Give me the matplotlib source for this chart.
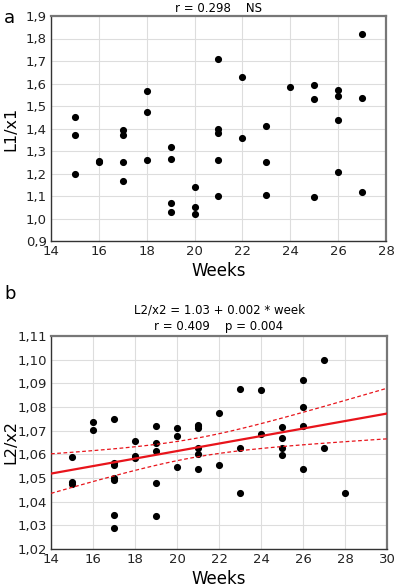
import numpy as np
import matplotlib.pyplot as plt
from matplotlib.ticker import FuncFormatter

# panel a: L1/x1 vs weeks
weeks_a = [15, 15, 15, 16, 16, 17, 17, 17, 17, 18, 18, 18,
           19, 19, 19, 19, 20, 20, 20, 21, 21, 21, 21, 21,
           22, 22, 23, 23, 23, 24, 25, 25, 25, 26, 26, 26, 26, 27, 27, 27]
ratio_a = [1.45, 1.37, 1.20, 1.255, 1.25, 1.395, 1.37, 1.25, 1.165, 1.565, 1.475, 1.26,
           1.32, 1.265, 1.07, 1.03, 1.14, 1.05, 1.02, 1.71, 1.40, 1.38, 1.26, 1.10,
           1.63, 1.36, 1.41, 1.25, 1.105, 1.585, 1.595, 1.53, 1.095, 1.57, 1.545, 1.44, 1.205,
           1.82, 1.535, 1.12]

# panel b: L2/x2 vs weeks
weeks_b = [15, 15, 15, 16, 16, 17, 17, 17, 17, 17, 17, 17,
           18, 18, 18, 19, 19, 19, 19, 19, 20, 20, 20,
           21, 21, 21, 21, 21, 21, 22, 22, 23, 23, 23, 24, 24,
           25, 25, 25, 25, 26, 26, 26, 26, 27, 27, 28]
ratio_b = [1.059, 1.0484, 1.0476, 1.0737, 1.0704, 1.0751, 1.0565, 1.0557, 1.0499, 1.049, 1.0345, 1.029,
           1.0656, 1.0594, 1.0585, 1.0721, 1.0647, 1.0616, 1.048, 1.0338, 1.0711, 1.0679, 1.0548,
           1.0725, 1.0718, 1.0711, 1.0625, 1.060, 1.054, 1.0774, 1.0557, 1.0875, 1.0628, 1.0435, 1.0872, 1.0688,
           1.0714, 1.0667, 1.0625, 1.0599, 1.0912, 1.0801, 1.0721, 1.054, 1.0997, 1.0626, 1.0437]


def comma(nd):
    fmt = '%.' + str(nd) + 'f'
    return FuncFormatter(lambda v, p: (fmt % v).replace('.', ','))


def style(ax):
    ax.grid(True, color='#dddddd', linewidth=0.8)
    ax.set_axisbelow(True)
    ax.tick_params(length=0, pad=3, labelsize=9.5, colors='#222222')
    for s in ['left', 'bottom']:
        ax.spines[s].set_color('#333333')
        ax.spines[s].set_linewidth(1.0)
    for s in ['top', 'right']:
        ax.spines[s].set_color('#777777')
        ax.spines[s].set_linewidth(1.6)


fig = plt.figure(figsize=(3.95, 5.88), dpi=100)

ax1 = fig.add_axes([51 / 395, 1 - 241 / 588, 335 / 395, 225 / 588])
ax1.scatter(weeks_a, ratio_a, s=17, color='black', zorder=3)
ax1.set_xlim(14, 28)
ax1.set_ylim(0.9, 1.9)
ax1.set_xticks(np.arange(14, 29, 2))
ax1.set_yticks(np.arange(0.9, 1.91, 0.1))
ax1.yaxis.set_major_formatter(comma(1))
ax1.set_xlabel('Weeks', fontsize=12, labelpad=3)
ax1.set_ylabel('L1/x1', fontsize=11.5)
ax1.yaxis.set_label_coords(-0.097, 0.5)
ax1.set_title('r = 0.298    NS', fontsize=8.5, pad=3)
style(ax1)
fig.text(0.01, 0.985, 'a', fontsize=13, va='top')

ax2 = fig.add_axes([51 / 395, 1 - 549 / 588, 336 / 395, 213 / 588])
ax2.scatter(weeks_b, ratio_b, s=17, color='black', zorder=3)

# regression line with 95% confidence band
x = np.array(weeks_b, float)
y = np.array(ratio_b, float)
b1, b0 = np.polyfit(x, y, 1)
xx = np.linspace(14, 30, 100)
yy = b0 + b1 * xx
n = len(x)
resid = y - (b0 + b1 * x)
se = np.sqrt(np.sum(resid ** 2) / (n - 2))
ci = 2.014 * se * np.sqrt(1 / n + (xx - x.mean()) ** 2 / np.sum((x - x.mean()) ** 2))
ax2.plot(xx, yy, color='#e8141b', linewidth=1.6, zorder=4)
ax2.plot(xx, yy + ci, color='#e8141b', linewidth=0.9, linestyle=(0, (3, 2)), zorder=4)
ax2.plot(xx, yy - ci, color='#e8141b', linewidth=0.9, linestyle=(0, (3, 2)), zorder=4)

ax2.set_xlim(14, 30)
ax2.set_ylim(1.02, 1.11)
ax2.set_xticks(np.arange(14, 31, 2))
ax2.set_yticks(np.arange(1.02, 1.1101, 0.01))
ax2.yaxis.set_major_formatter(comma(2))
ax2.set_xlabel('Weeks', fontsize=12, labelpad=3)
ax2.set_ylabel('L2/x2', fontsize=11.5)
ax2.yaxis.set_label_coords(-0.097, 0.5)
ax2.set_title('L2/x2 = 1.03 + 0.002 * week\nr = 0.409    p = 0.004', fontsize=8.5, pad=4,
              linespacing=1.4)
style(ax2)
fig.text(0.01, 0.515, 'b', fontsize=13, va='top')

fig.savefig('out.png', dpi=100)
